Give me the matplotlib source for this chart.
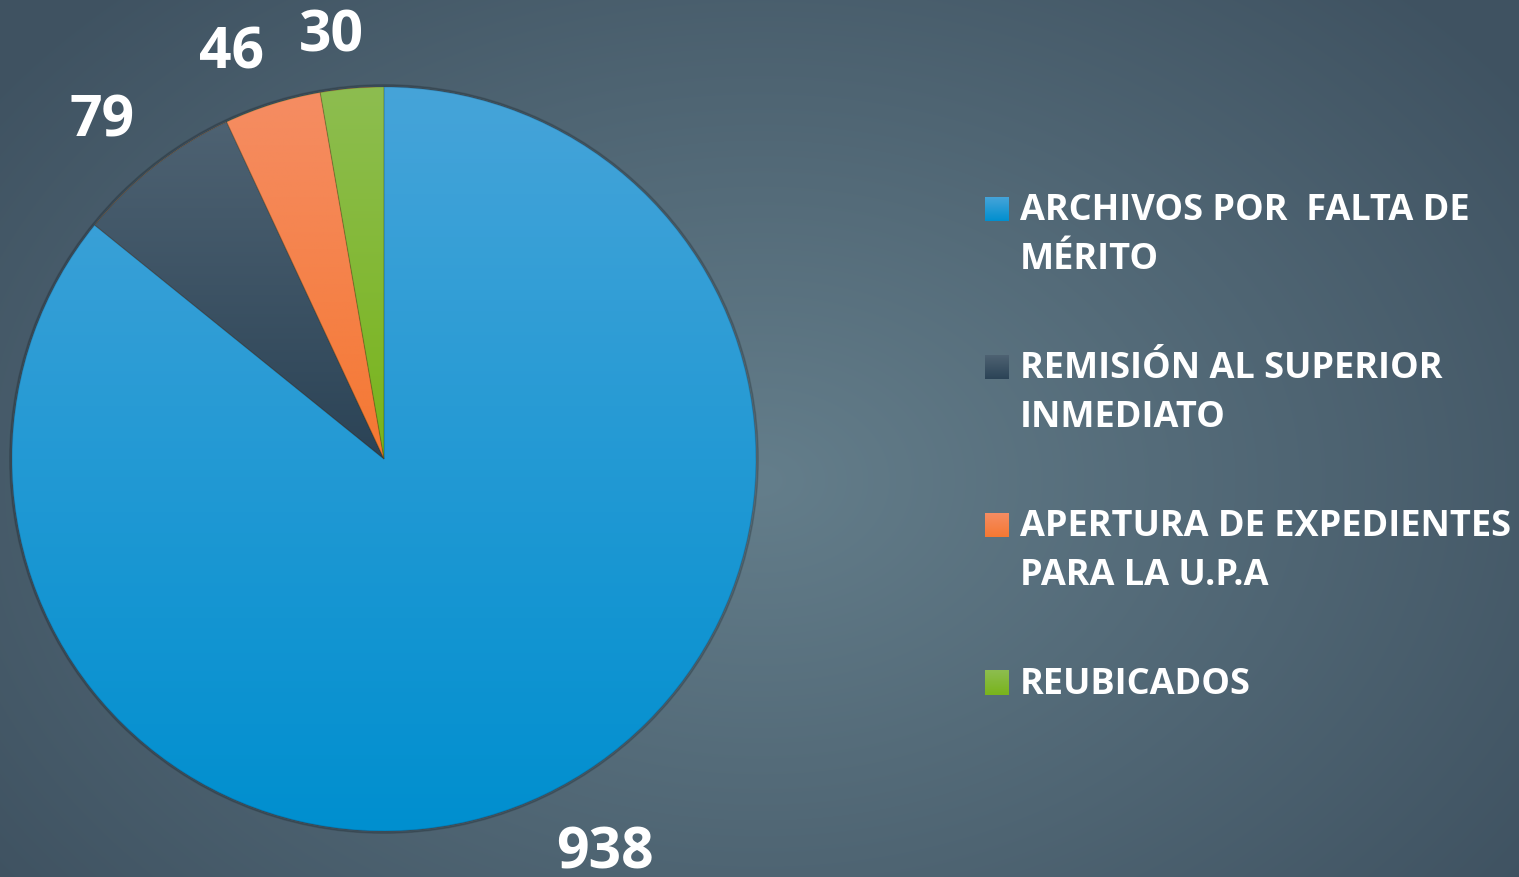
import numpy as np
import matplotlib.pyplot as plt
from matplotlib.patches import Wedge
from matplotlib.colors import LinearSegmentedColormap, to_rgb

plt.rcParams['font.family'] = ['Open Sans', 'DejaVu Sans']

categories = ['ARCHIVOS POR  FALTA DE\nMÉRITO',
              'REMISIÓN AL SUPERIOR\nINMEDIATO',
              'APERTURA DE EXPEDIENTES\nPARA LA U.P.A',
              'REUBICADOS']
values = [938, 79, 46, 30]
top_colors = ['#46a4d9', '#4e6272', '#f58d63', '#8dbd50']
bottom_colors = ['#008fcf', '#2b4356', '#f57832', '#79b41b']

W, H = 1519, 877
fig = plt.figure(figsize=(W / 100, H / 100), dpi=100)

# radial background
bg = fig.add_axes([0, 0, 1, 1])
bg.axis('off')
yy, xx = np.mgrid[0:H, 0:W]
d = np.sqrt(((xx - 760) / 950.0) ** 2 + ((yy - 480) / 680.0) ** 2)
d = np.clip(d, 0, 1)
inner = np.array(to_rgb('#647e8b'))
outer = np.array(to_rgb('#3f5261'))
img = inner + (outer - inner) * d[..., None]
bg.imshow(img, extent=[0, 1, 0, 1], origin='upper', aspect='auto')


def grad_cmap(c0, c1):
    return LinearSegmentedColormap.from_list('g', [c0, c1])


# pie
cx, cy, r = 384, 459, 372
L = 1.05
ax = fig.add_axes([(cx - r * L) / W, (H - cy - r * L) / H, 2 * r * L / W, 2 * r * L / H])
wedges, texts = ax.pie(values, startangle=90, counterclock=False, radius=1,
                       wedgeprops=dict(linewidth=0))

# soft shadow around the pie
ax.add_patch(plt.Circle((0, 0), 1.006, color='black', alpha=0.15, zorder=0.5))

grad = np.linspace(0, 1, 256)[:, None]
for w, c0, c1 in zip(wedges, top_colors, bottom_colors):
    bb = w.get_path().get_extents()
    im = ax.imshow(grad, cmap=grad_cmap(c0, c1), extent=[bb.x0, bb.x1, bb.y0, bb.y1],
                   origin='upper', aspect='auto', zorder=1.5)
    im.set_clip_path(w)
    ax.add_patch(Wedge((0, 0), 1, w.theta1, w.theta2, facecolor='none',
                       edgecolor=(0, 0, 0, 0.12), linewidth=0.8, zorder=2))

ax.set_aspect('equal')
ax.set_xlim(-L, L)
ax.set_ylim(-L, L)
ax.axis('off')

# value labels: nearest corner of the label box sits just outside the rim
fs = 41
renderer = fig.canvas.get_renderer()
ink_h = fs * 100 / 72 * 0.714 / r
for w, v in zip(wedges, values):
    ang = np.deg2rad((w.theta1 + w.theta2) / 2)
    c, s = np.cos(ang), np.sin(ang)
    t = ax.text(0, 0, str(v), color='white', fontsize=fs, fontweight='bold',
                ha='center', va='baseline')
    tw = t.get_window_extent(renderer).width / r * 0.92
    ax_x = 1.1 * c + np.clip(c / 0.15, -1, 1) * tw / 2
    ax_y = 1.1 * s + np.sign(s) * ink_h / 2
    t.set_position((ax_x, ax_y - ink_h / 2))

# legend
base0, step, line_gap = 220, 158, 49
for i, (lab, c0, c1) in enumerate(zip(categories, top_colors, bottom_colors)):
    base = base0 + i * step
    bg.imshow(grad, cmap=grad_cmap(c0, c1),
              extent=[985 / W, 1009 / W, 1 - (base + 1) / H, 1 - (base - 23) / H],
              origin='upper', aspect='auto', zorder=2)
    for j, line in enumerate(lab.split('\n')):
        fig.text(1020 / W, 1 - (base + j * line_gap) / H, line, color='white',
                 fontsize=26, fontweight='bold', va='baseline', ha='left')
bg.set_xlim(0, 1)
bg.set_ylim(0, 1)

fig.savefig('out.png', dpi=100)
